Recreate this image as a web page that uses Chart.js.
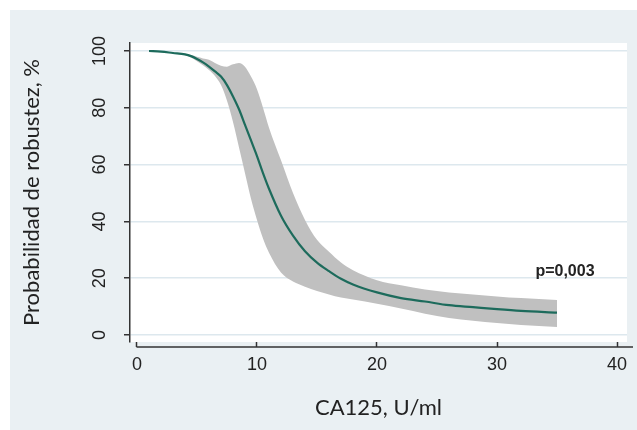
<!DOCTYPE html>
<html>
<head>
<meta charset="utf-8">
<script src="https://cdn.jsdelivr.net/npm/chart.js@4"></script>
<style>
  body { margin: 0; background: #ffffff; }
  #wrap { position: absolute; left: 10px; top: 10px; width: 627px; height: 420px; background: #eaf0f3; }
</style>
</head>
<body>
<div id="wrap"><canvas id="robustChart" width="627" height="420"></canvas></div>
<script>
// CA125 values (U/ml) and estimated probability curve with its confidence band
const ca125 = [1, 2, 3, 4, 4.5, 5, 5.5, 6, 6.5, 7, 7.5, 8, 8.5, 9, 9.5, 10, 10.5, 11, 12, 13, 14, 15, 16, 17, 18, 20, 22, 24, 26, 28, 30, 32, 35];
const probability = [100, 99.8, 99.3, 98.8, 98.2, 97.2, 96, 94.5, 92.8, 91, 88, 84, 79.5, 74, 68.5, 63, 57, 51.5, 42, 35, 29.5, 25.5, 22.5, 19.8, 17.8, 15, 13, 11.8, 10.5, 9.8, 9.1, 8.5, 7.9];
const upperCI = [100, 99.9, 99.5, 99, 98.6, 98, 97.4, 96.9, 95.8, 94.8, 94.5, 95.3, 95.8, 94.5, 91, 86.5, 80, 73, 61.5, 50, 40.5, 33.5, 29.3, 25.5, 22.8, 19.3, 17.5, 16, 15, 14.3, 13.6, 13, 12.3];
const lowerCI = [100, 99.7, 99.1, 98.5, 97.7, 96.4, 95, 93.3, 91.2, 88, 82.5, 75, 66, 57, 48, 40.5, 34, 29, 22, 18.8, 17, 15.5, 14.3, 13.2, 12.5, 11, 9.3, 7.5, 6, 5, 4.2, 3.5, 2.8];
const xTicks = [0, 10, 20, 30, 40];
const yTicks = [0, 20, 40, 60, 80, 100];

function pts(ys) {
    return ca125.map((x, i) => ({ x: x, y: ys[i] }));
}

// white plot region, separated x axis line and p-value text
const stataLook = {
    id: 'stataLook',
    beforeDraw(chart) {
        const a = chart.chartArea;
        const c = chart.ctx;
        c.save();
        c.fillStyle = '#ffffff';
        c.fillRect(a.left, a.top, a.right - a.left, a.bottom - a.top);
        c.restore();
    },
    afterDraw(chart) {
        const c = chart.ctx;
        const a = chart.chartArea;
        const xs = chart.scales.x;
        const ys = chart.scales.y;
        c.save();
        c.strokeStyle = '#333333';
        c.lineWidth = 1.5;
        c.beginPath();
        c.moveTo(xs.getPixelForValue(0) - 0.5, a.bottom + 5);
        c.lineTo(a.right + 6, a.bottom + 5);
        c.stroke();
        c.fillStyle = '#222222';
        c.font = 'bold 16px "Liberation Sans", Arial, sans-serif';
        c.textAlign = 'left';
        c.textBaseline = 'middle';
        c.fillText('p=0,003', xs.getPixelForValue(33.2), ys.getPixelForValue(22.2));
        c.restore();
    }
};

const ctx = document.getElementById('robustChart').getContext('2d');
new Chart(ctx, {
    type: 'line',
    data: {
        datasets: [
            { label: 'Probabilidad', data: pts(probability), borderColor: '#1d6b5c', borderWidth: 2.2, pointRadius: 0, fill: false, cubicInterpolationMode: 'monotone' },
            { label: 'IC superior', data: pts(upperCI), borderWidth: 0, borderColor: 'rgba(0,0,0,0)', backgroundColor: '#c0c0c0', pointRadius: 0, fill: '+1', cubicInterpolationMode: 'monotone' },
            { label: 'IC inferior', data: pts(lowerCI), borderWidth: 0, borderColor: 'rgba(0,0,0,0)', pointRadius: 0, fill: false, cubicInterpolationMode: 'monotone' }
        ]
    },
    options: {
        responsive: false,
        animation: false,
        layout: { padding: { left: 0, right: 10, top: 33, bottom: 0 } },
        plugins: { legend: { display: false }, tooltip: { enabled: false } },
        scales: {
            x: {
                type: 'linear',
                min: -0.583,
                max: 40.833,
                afterBuildTicks: s => { s.ticks = xTicks.map(v => ({ value: v })); },
                afterFit: s => { s.height = 88; },
                grid: { drawOnChartArea: false, tickLength: 5, tickColor: '#333333', tickWidth: 1.5 },
                border: { display: false },
                ticks: { color: '#222222', padding: 7, maxRotation: 0, font: { family: '"Liberation Sans", Arial, sans-serif', size: 18 } },
                title: { display: true, text: 'CA125, U/ml', color: '#222222', padding: { top: 0, bottom: 9 }, font: { family: 'Lato, sans-serif', size: 22 } }
            },
            y: {
                type: 'linear',
                min: -2.46,
                max: 102.82,
                afterBuildTicks: s => { s.ticks = yTicks.map(v => ({ value: v })); },
                afterFit: s => { s.width = 120; },
                grid: { color: '#dde8ee', lineWidth: 1.5, tickLength: 6, tickColor: '#333333', tickWidth: 1.5 },
                border: { display: true, color: '#333333', width: 1.5 },
                ticks: { color: '#222222', padding: 9, minRotation: 90, maxRotation: 90, crossAlign: 'center', font: { family: '"Liberation Sans", Arial, sans-serif', size: 18 } },
                title: { display: true, text: 'Probabilidad de robustez, %', color: '#222222', padding: { top: 9, bottom: 0 }, font: { family: 'Lato, sans-serif', size: 22 } }
            }
        }
    },
    plugins: [stataLook]
});
</script>
</body>
</html>
